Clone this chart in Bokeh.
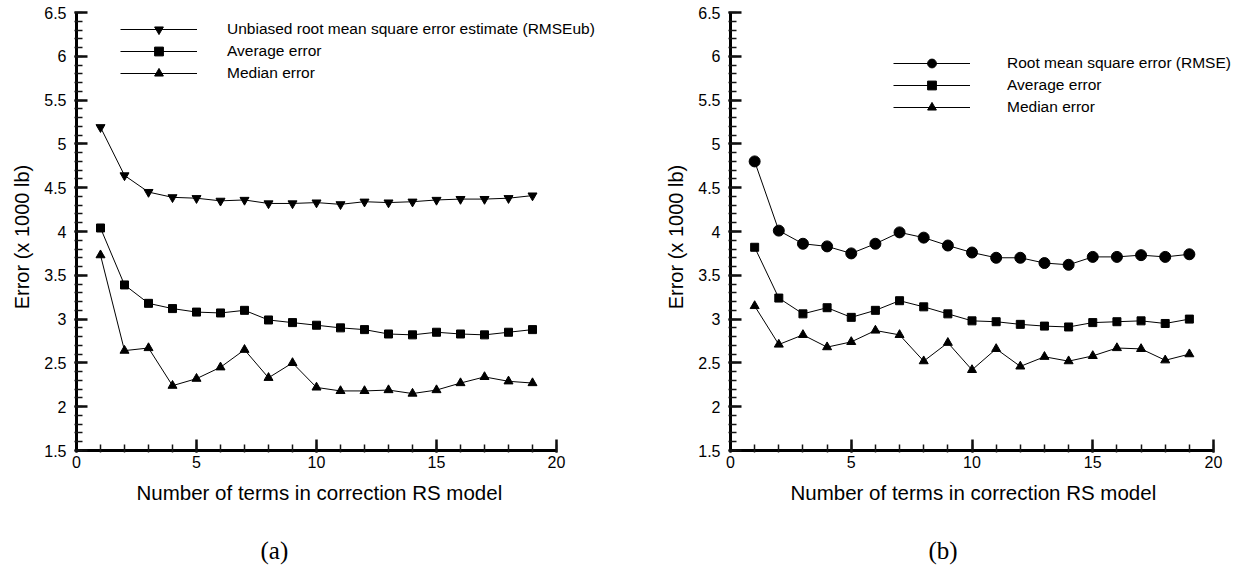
import numpy as np
from bokeh.plotting import figure
from bokeh.layouts import row
from bokeh.models import (Legend, LegendItem, SingleIntervalTicker, CustomJSTickFormatter,
                          Title, Range1d)
from bokeh.embed import file_html
from bokeh.resources import INLINE

# ---------------- data ----------------
n_terms = list(range(1, 20))

# (a)
rmseub_a = [5.19, 4.64, 4.45, 4.39, 4.38, 4.35, 4.36, 4.32, 4.32, 4.33,
            4.31, 4.34, 4.33, 4.34, 4.36, 4.37, 4.37, 4.38, 4.41]
average_a = [4.04, 3.39, 3.18, 3.12, 3.08, 3.07, 3.10, 2.99, 2.96, 2.93,
             2.90, 2.88, 2.83, 2.82, 2.85, 2.83, 2.82, 2.85, 2.88]
median_a = [3.73, 2.64, 2.67, 2.24, 2.32, 2.45, 2.65, 2.33, 2.50, 2.22,
            2.18, 2.18, 2.19, 2.15, 2.19, 2.27, 2.34, 2.29, 2.27]

# (b)
rmse_b = [4.80, 4.01, 3.86, 3.83, 3.75, 3.86, 3.99, 3.93, 3.84, 3.76,
          3.70, 3.70, 3.64, 3.62, 3.71, 3.71, 3.73, 3.71, 3.74]
average_b = [3.82, 3.24, 3.06, 3.13, 3.02, 3.10, 3.21, 3.14, 3.06, 2.98,
             2.97, 2.94, 2.92, 2.91, 2.96, 2.97, 2.98, 2.95, 3.00]
median_b = [3.15, 2.71, 2.82, 2.68, 2.74, 2.87, 2.82, 2.52, 2.73, 2.42,
            2.66, 2.46, 2.57, 2.52, 2.58, 2.67, 2.66, 2.53, 2.60]

labels_a = ["Unbiased root mean square error estimate (RMSEub)", "Average error", "Median error"]
labels_b = ["Root mean square error (RMSE)", "Average error", "Median error"]

x_title = "Number of terms in correction RS model"
y_title = "Error  (x 1000  lb)"

X_MIN, X_MAX = 0, 20
Y_MIN, Y_MAX = 1.5, 6.5

SANS = "Liberation Sans"
SERIF = "Liberation Serif"

FRAME_H = 438


def make_panel(series, markers, sizes, labels, caption, x_end, px_x, border_r,
               legend_xy, legend_standoff, xtitle_offset, caption_offset):
    frame_w = int(round(x_end * px_x))
    p = figure(frame_width=frame_w, frame_height=FRAME_H,
               min_border_left=76, min_border_right=border_r,
               min_border_top=12, min_border_bottom=110,
               x_range=Range1d(X_MIN, x_end), y_range=Range1d(Y_MIN, Y_MAX),
               output_backend="svg", toolbar_location=None,
               background_fill_color=None, border_fill_color="white")
    p.outline_line_color = None
    p.xgrid.visible = False
    p.ygrid.visible = False

    p.xaxis.ticker = SingleIntervalTicker(interval=5, num_minor_ticks=5)
    p.yaxis.ticker = SingleIntervalTicker(interval=0.5, num_minor_ticks=5)
    p.yaxis.formatter = CustomJSTickFormatter(code="return (Math.round(tick*10)/10).toString()")
    p.xaxis.formatter = CustomJSTickFormatter(code="return (Math.round(tick)).toString()")
    p.xaxis.bounds = (X_MIN, X_MAX)

    for ax in (p.xaxis, p.yaxis):
        ax.axis_line_color = "black"
        ax.axis_line_width = 3
        ax.major_tick_line_color = "#0d0d0d"
        ax.minor_tick_line_color = "#141414"
        ax.major_tick_line_width = 2.5
        ax.minor_tick_line_width = 1.5
        ax.major_tick_in = 11
        ax.major_tick_out = 2
        ax.minor_tick_in = 6
        ax.minor_tick_out = 2
        ax.major_label_text_font = SANS
        ax.major_label_text_font_size = "16px"
        ax.major_label_text_color = "black"
        ax.axis_label_text_font = SANS
        ax.axis_label_text_font_size = "20px"
        ax.axis_label_text_font_style = "normal"
        ax.axis_label_text_color = "black"
    p.xaxis.major_label_standoff = 3
    p.yaxis.major_label_standoff = 8
    p.yaxis.axis_label = y_title
    p.yaxis.axis_label_standoff = 8

    items = []
    for ys, mk, sz, lab in zip(series, markers, sizes, labels):
        lr = p.line(n_terms, ys, line_color="black", line_width=1)
        sr = p.scatter(n_terms, ys, marker=mk, size=sz,
                       fill_color="black", line_color="black")
        items.append(LegendItem(label=lab, renderers=[lr, sr]))

    leg = Legend(items=items, location=legend_xy,
                 glyph_width=77, glyph_height=22, label_height=22,
                 label_standoff=legend_standoff, spacing=0, padding=0, margin=0,
                 border_line_alpha=0, background_fill_alpha=0,
                 label_text_font=SANS, label_text_font_size="15.5px",
                 label_text_color="black")
    p.add_layout(leg)

    xt = Title(text=x_title, align="left", offset=xtitle_offset,
               text_font=SANS, text_font_size="20.5px",
               text_font_style="normal", text_color="black", standoff=16)
    p.add_layout(xt, "below")

    cap = Title(text=caption, align="left", offset=caption_offset,
                text_font=SERIF, text_font_size="25px",
                text_font_style="normal", text_color="black", standoff=46)
    p.add_layout(cap, "below")
    return p


# (a): frame 0..22.5 at 24 px/unit (room for the legend text), axis drawn 0..20
p1 = make_panel([rmseub_a, average_a, median_a],
                ["inverted_triangle", "square", "triangle"], [9, 8, 9],
                labels_a, "(a)", 22.5, 24.0, 38, (44, 366), 30, 60, 184)
# (b): frame 0..21.2 at 24.15 px/unit, axis drawn 0..20
p2 = make_panel([rmse_b, average_b, median_b],
                ["circle", "square", "triangle"], [11, 8, 9],
                labels_b, "(b)", 21.2, 24.15, 6, (163, 332), 37, 60, 198)

layout = row(p1, p2)
open("out.html", "w").write(file_html(layout, INLINE))
